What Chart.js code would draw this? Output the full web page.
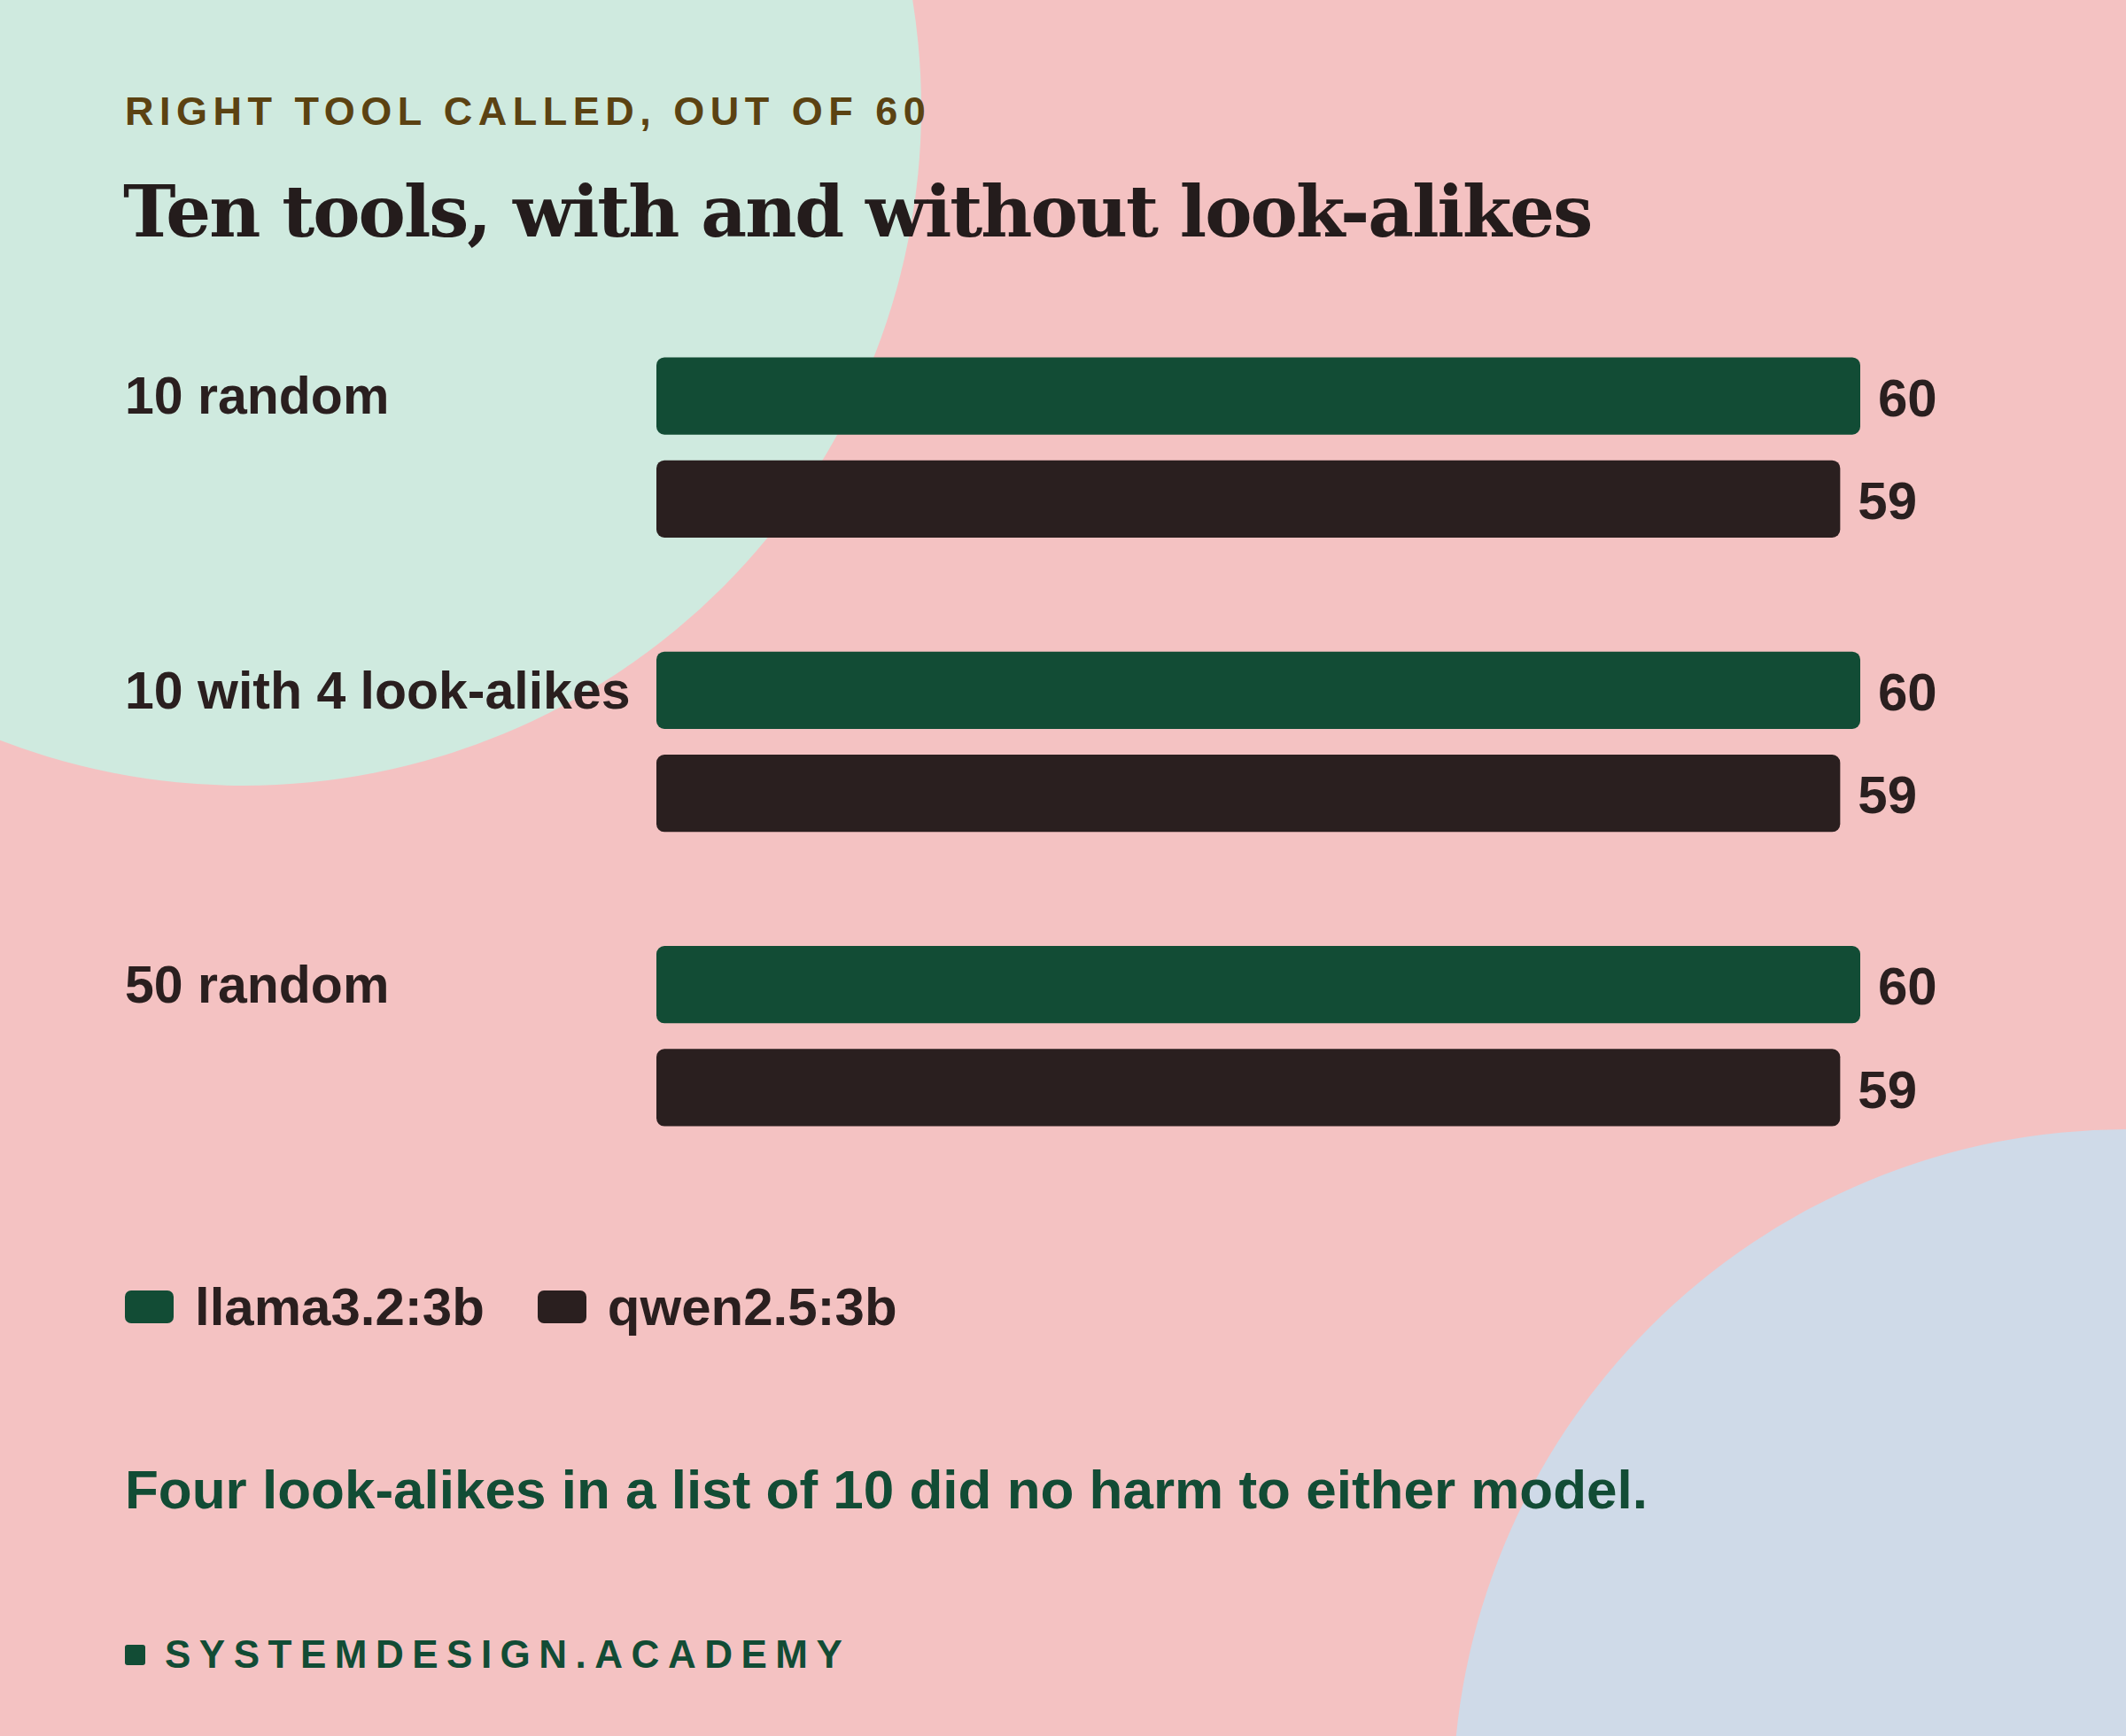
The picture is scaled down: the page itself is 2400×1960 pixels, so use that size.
<!DOCTYPE html>
<html>
<head>
<meta charset="utf-8">
<script src="https://cdn.jsdelivr.net/npm/chart.js@4"></script>
<style>
  html, body { margin: 0; padding: 0; }
  body { width: 2400px; height: 1960px; background: #F4C2C2; position: relative; overflow: hidden;
         font-family: "Liberation Sans", Arial, sans-serif; color: #2A1F1F; }
  .blob { position: absolute; border-radius: 50%; }
  #blobGreen { left: -490px; top: -643px; width: 1530px; height: 1530px; background: #CFEADF; }
  #blobBlue { left: 1640px; top: 1275px; width: 1522px; height: 1522px; background: #CFDAE8; }
  #kicker { position: absolute; left: 141px; top: 100px; font-size: 45px; font-weight: 700;
            letter-spacing: 6.5px; color: #5B4212; }
  #title { position: absolute; left: 139px; top: 192px; font-family: "DejaVu Serif", serif; font-size: 80px;
           font-weight: 700; letter-spacing: -2px; color: #241C1C; }
  #chartWrap { position: absolute; left: 0; top: 0; width: 2400px; height: 1400px; }
  #legend { position: absolute; left: 141px; top: 1441px; font-size: 60px; font-weight: 700; display: flex; align-items: center; }
  .sw { display: inline-block; width: 55px; height: 37px; border-radius: 7px; margin-right: 24px; }
  .item { display: flex; align-items: center; margin-right: 60px; }
  #note { position: absolute; left: 141px; top: 1646px; font-size: 62px; font-weight: 700; color: #124C35; }
  #footer { position: absolute; left: 141px; top: 1843px; font-size: 44px; font-weight: 700; color: #124C35;
            letter-spacing: 9.5px; display: flex; align-items: center; }
  #footer span.sq { display: inline-block; width: 23px; height: 23px; background: #124C35; border-radius: 3px; margin-right: 22px; }
</style>
</head>
<body>
<div class="blob" id="blobGreen"></div>
<div class="blob" id="blobBlue"></div>
<div id="kicker">RIGHT TOOL CALLED, OUT OF 60</div>
<div id="title">Ten tools, with and without look-alikes</div>
<div id="chartWrap"><canvas id="chart" width="2400" height="1400"></canvas></div>
<div id="legend">
  <div class="item"><span class="sw" style="background:#124C35"></span>llama3.2:3b</div>
  <div class="item"><span class="sw" style="background:#2A1F1F"></span>qwen2.5:3b</div>
</div>
<div id="note">Four look-alikes in a list of 10 did no harm to either model.</div>
<div id="footer"><span class="sq"></span>SYSTEMDESIGN.ACADEMY</div>

<script>
// Data
var categories = ["10 random", "10 with 4 look-alikes", "50 random"];
var llamaScores = [60, 60, 60];
var qwenScores = [59, 59, 59];
var seriesNames = ["llama3.2:3b", "qwen2.5:3b"];
var seriesColors = ["#124C35", "#2A1F1F"];

var catFont = "700 59px 'Liberation Sans', Arial, sans-serif";
var valueFont = "700 60px 'Liberation Sans', Arial, sans-serif";

var labelsPlugin = {
    id: 'labels',
    afterDatasetsDraw: function (chart) {
        var ctx = chart.ctx;
        ctx.save();
        ctx.fillStyle = "#2A1F1F";
        ctx.textBaseline = "middle";
        ctx.textAlign = "left";

        // value labels at bar ends
        ctx.font = valueFont;
        chart.data.datasets.forEach(function (ds, i) {
            chart.getDatasetMeta(i).data.forEach(function (bar, j) {
                ctx.fillText(String(ds.data[j]), bar.x + 20, bar.y + 6);
            });
        });

        // category labels lined up with the first bar
        ctx.font = catFont;
        chart.getDatasetMeta(0).data.forEach(function (bar, j) {
            ctx.fillText(categories[j], 141, bar.y + 4);
        });
        ctx.restore();
    }
};

var ctx = document.getElementById('chart').getContext('2d');
var chart = new Chart(ctx, {
    type: 'bar',
    data: {
        labels: categories,
        datasets: [
            { label: seriesNames[0], data: llamaScores, backgroundColor: seriesColors[0] },
            { label: seriesNames[1], data: qwenScores, backgroundColor: seriesColors[1] }
        ]
    },
    options: {
        indexAxis: 'y',
        responsive: false,
        maintainAspectRatio: false,
        animation: false,
        devicePixelRatio: 1,
        layout: { padding: { left: 741, right: 300, top: 339, bottom: 64 } },
        datasets: {
            bar: {
                categoryPercentage: 0.70,
                barPercentage: 0.75,
                borderRadius: 9,
                borderSkipped: false
            }
        },
        scales: {
            x: { display: false, min: 0, max: 60 },
            y: { display: false }
        },
        plugins: {
            legend: { display: false },
            tooltip: { enabled: false }
        }
    },
    plugins: [labelsPlugin]
});
</script>
</body>
</html>
